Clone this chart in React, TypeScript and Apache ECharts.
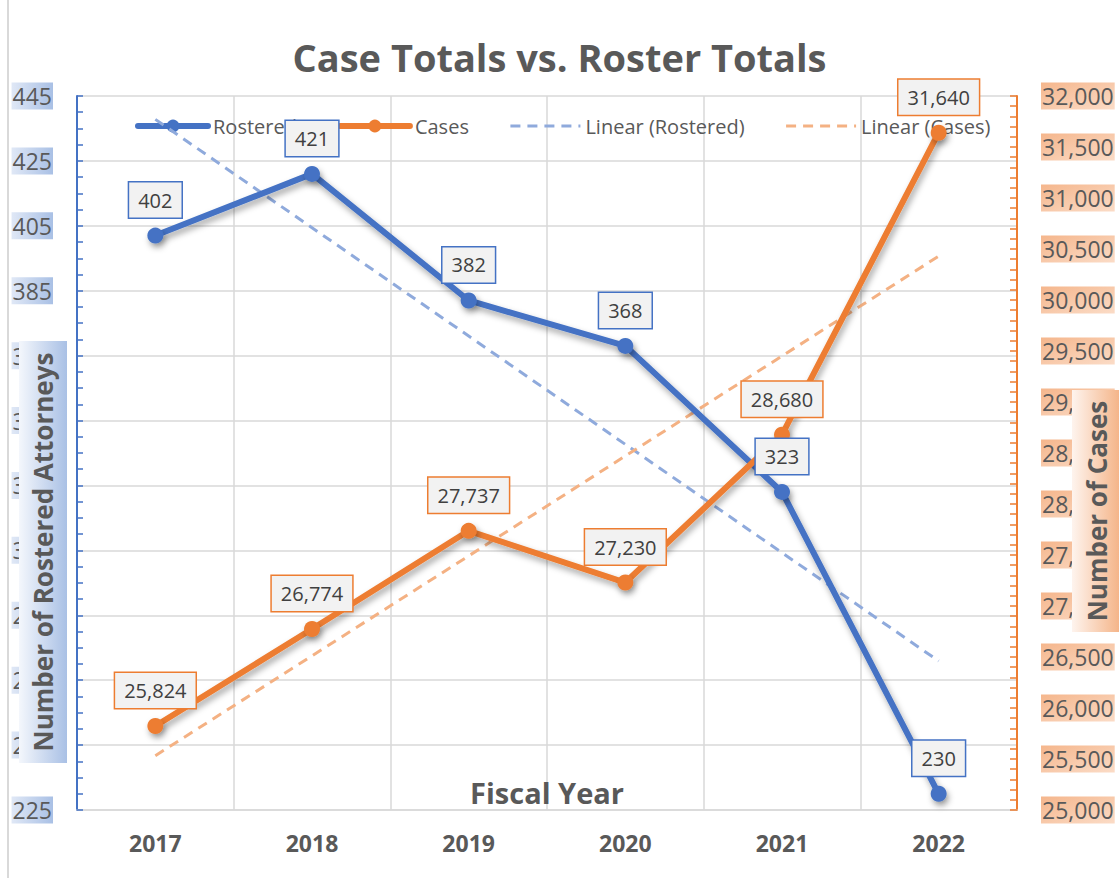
import { useEffect, useRef } from 'react';
import * as echarts from 'echarts';

const years = ['2017', '2018', '2019', '2020', '2021', '2022'];
const rostered = [402, 421, 382, 368, 323, 230];
const cases = [25824, 26774, 27737, 27230, 28680, 31640];
// trend line end points (middle points left empty)
const rosteredTrend = [437.8, null, null, null, null, 270.9];
const casesTrend = [25532, null, null, null, null, 30430];

const FONT = '"Open Sans", "Noto Sans", sans-serif';
const BLUE = '#4472c4';
const ORANGE = '#ed7d31';
const GRID = '#d9d9d9';
const TEXT = '#595959';

export default function App() {
  const ref = useRef<HTMLDivElement>(null);
  useEffect(() => {
    const chart = echarts.init(ref.current!, null, { renderer: 'svg' });
    const blueLabelBg = new echarts.graphic.LinearGradient(0, 0, 1, 0, [
      { offset: 0, color: '#e0e8f6' },
      { offset: 1, color: '#a9c0e5' },
    ]);
    const orangeLabelBg = new echarts.graphic.LinearGradient(0, 0, 1, 1, [
      { offset: 0, color: '#f5b68c' },
      { offset: 1, color: '#fbdcc7' },
    ]);
    const blueTitleBg = new echarts.graphic.LinearGradient(0, 0, 0, 1, [
      { offset: 0, color: '#f4f7fc' },
      { offset: 1, color: '#a9c0e5' },
    ]);
    const orangeTitleBg = new echarts.graphic.LinearGradient(0, 0, 0, 1, [
      { offset: 0, color: '#fef4ee' },
      { offset: 1, color: '#f4b183' },
    ]);
    const shadow = {
      shadowColor: 'rgba(0,0,0,0.35)',
      shadowBlur: 6,
      shadowOffsetX: 2,
      shadowOffsetY: 4,
    };
    const labelBase = {
      show: true,
      position: 'top',
      distance: 10,
      fontSize: 20,
      lineHeight: 25,
      fontFamily: FONT,
      color: '#404040',
      backgroundColor: '#f2f2f2',
      borderWidth: 1.5,
      padding: [5, 9],
    };
    chart.setOption({
      animation: false,
      backgroundColor: '#ffffff',
      textStyle: { fontFamily: FONT },
      title: {
        text: 'Case Totals vs. Roster Totals',
        left: 'center',
        top: 33,
        textStyle: { fontSize: 38, fontWeight: 'bold', color: TEXT, fontFamily: FONT },
      },
      legend: {
        left: 130,
        top: 111,
        itemWidth: 70,
        itemHeight: 16,
        itemGap: 40,
        z: 2,
        textStyle: { fontSize: 20, lineHeight: 20, color: TEXT, fontFamily: FONT },
        lineStyle: { width: 'inherit' },
        data: [
          { name: 'Rostered' },
          { name: 'Cases' },
          { name: 'Linear (Rostered)', itemStyle: { opacity: 0 } },
          { name: 'Linear (Cases)', itemStyle: { opacity: 0 } },
        ],
      },
      grid: { left: 77, right: 102, top: 96, bottom: 68, containLabel: false, outerBoundsMode: 'none' },
      xAxis: {
        type: 'category',
        data: years,
        boundaryGap: true,
        axisLine: { show: true, lineStyle: { color: GRID, width: 1.5 } },
        axisTick: { show: false },
        axisLabel: { fontSize: 23, fontWeight: 'bold', color: TEXT, margin: 21, fontFamily: FONT },
        splitLine: { show: true, lineStyle: { color: GRID, width: 1.5 } },
        name: 'Fiscal Year',
        nameLocation: 'middle',
        nameGap: -32,
        nameMoveOverlap: false,
        nameTextStyle: { fontSize: 29, fontWeight: 'bold', color: TEXT, fontFamily: FONT },
      },
      yAxis: [
        {
          type: 'value',
          position: 'left',
          min: 225,
          max: 445,
          interval: 20,
          axisLine: { show: true, lineStyle: { color: BLUE, width: 2 } },
          axisTick: { show: true, inside: true, length: 6, lineStyle: { color: BLUE, width: 1.5 } },
          minorTick: { show: true, splitNumber: 4, length: 6, lineStyle: { color: BLUE, width: 1.5 } },
          axisLabel: {
            fontSize: 23,
            color: TEXT,
            margin: 24,
            fontFamily: FONT,
            backgroundColor: blueLabelBg,
            padding: [2, 1],
          },
          splitLine: { show: true, lineStyle: { color: GRID, width: 1.5 } },
        },
        {
          type: 'value',
          position: 'right',
          min: 25000,
          max: 32000,
          interval: 500,
          axisLine: { show: true, lineStyle: { color: ORANGE, width: 2 } },
          axisTick: { show: true, inside: true, length: 7, lineStyle: { color: ORANGE, width: 1.5 } },
          minorTick: { show: true, splitNumber: 5, length: 7, lineStyle: { color: ORANGE, width: 1.5 } },
          axisLabel: {
            fontSize: 23,
            color: TEXT,
            margin: 24,
            fontFamily: FONT,
            backgroundColor: orangeLabelBg,
            padding: [2, 1],
            formatter: (v: number) => v.toLocaleString('en-US'),
          },
          splitLine: { show: false },
        },
      ],
      series: [
        {
          name: 'Rostered',
          type: 'line',
          yAxisIndex: 0,
          data: rostered,
          symbol: 'circle',
          symbolSize: 16,
          z: 10,
          lineStyle: { color: BLUE, width: 6, cap: 'round', ...shadow },
          itemStyle: { color: BLUE, ...shadow },
          label: { ...labelBase, borderColor: BLUE },
        },
        {
          name: 'Cases',
          type: 'line',
          yAxisIndex: 1,
          data: cases,
          symbol: 'circle',
          symbolSize: 16,
          z: 10,
          lineStyle: { color: ORANGE, width: 6, cap: 'round', ...shadow },
          itemStyle: { color: ORANGE, ...shadow },
          label: {
            ...labelBase,
            borderColor: ORANGE,
            formatter: (p: any) => Number(p.value).toLocaleString('en-US'),
          },
        },
        {
          name: 'Linear (Rostered)',
          type: 'line',
          yAxisIndex: 0,
          data: rosteredTrend,
          connectNulls: true,
          symbol: 'none',
          silent: true,
          z: 5,
          lineStyle: { color: '#8faadc', width: 3, type: [10, 7] },
          itemStyle: { color: '#8faadc' },
        },
        {
          name: 'Linear (Cases)',
          type: 'line',
          yAxisIndex: 1,
          data: casesTrend,
          connectNulls: true,
          symbol: 'none',
          silent: true,
          z: 5,
          lineStyle: { color: '#f4b183', width: 3, type: [10, 7] },
          itemStyle: { color: '#f4b183' },
        },
      ],
      graphic: [
        {
          type: 'line',
          z: 100,
          shape: { x1: 8, y1: 0, x2: 8, y2: 878 },
          style: { stroke: GRID, lineWidth: 2 },
        },
        {
          type: 'group',
          x: 43,
          y: 552,
          rotation: Math.PI / 2,
          z: 100,
          children: [
            {
              type: 'rect',
              z: 100,
              shape: { x: -211, y: -24, width: 422, height: 48 },
              style: { fill: blueTitleBg },
            },
            {
              type: 'text',
              z: 101,
              style: {
                text: 'Number of Rostered Attorneys',
                x: 0,
                y: 0,
                align: 'center',
                verticalAlign: 'middle',
                fontSize: 26,
                fontWeight: 'bold',
                fontFamily: FONT,
                fill: TEXT,
              },
            },
          ],
        },
        {
          type: 'group',
          x: 1097,
          y: 511,
          rotation: Math.PI / 2,
          z: 100,
          children: [
            {
              type: 'rect',
              z: 100,
              shape: { x: -121, y: -25, width: 242, height: 50 },
              style: { fill: orangeTitleBg },
            },
            {
              type: 'text',
              z: 101,
              style: {
                text: 'Number of Cases',
                x: 0,
                y: 0,
                align: 'center',
                verticalAlign: 'middle',
                fontSize: 26,
                fontWeight: 'bold',
                fontFamily: FONT,
                fill: TEXT,
              },
            },
          ],
        },
      ],
    });
    return () => chart.dispose();
  }, []);
  return (
    <div
      ref={ref}
      style={{ position: 'fixed', left: 0, top: 0, width: 1119, height: 878, background: '#fff' }}
    />
  );
}
